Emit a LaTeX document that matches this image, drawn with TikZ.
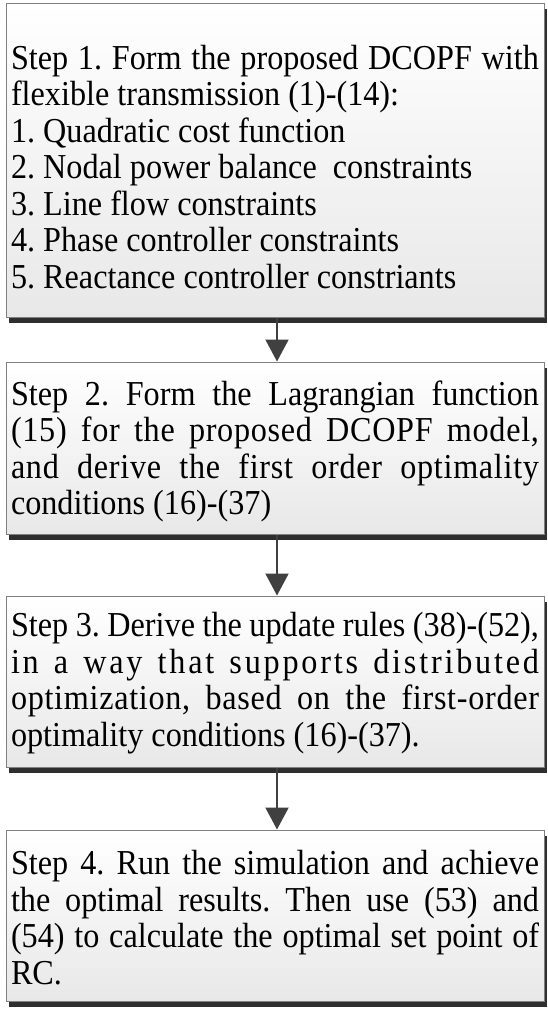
\documentclass[tikz,border=0pt]{standalone}
\usepackage{fontspec}
\setmainfont{Liberation Serif}[FakeStretch=0.92]
\usetikzlibrary{arrows.meta,shadows}
\definecolor{boxborder}{HTML}{808080}
\definecolor{boxbottom}{HTML}{E8E8E8}
\definecolor{shadowcol}{HTML}{2E2E2E}
\definecolor{arrowcol}{HTML}{404040}
\begin{document}
\begin{tikzpicture}[x=1pt,y=-1pt,
  stepbox/.style={draw=boxborder, line width=1pt, top color=white, bottom color=boxbottom,
    minimum width=538pt, text width=528pt, inner xsep=5pt, inner ysep=0pt, align=justify,
    font=\fontsize{35pt}{36.5pt}\selectfont\frenchspacing,
    drop shadow={shadow xshift=3pt, shadow yshift=-6pt, fill=shadowcol, opacity=1}},
  flow/.style={draw=arrowcol, line width=2pt, -{Triangle[length=22pt,width=23pt]}}]
\useasboundingbox (0,0) rectangle (547,1009);
\fill[white] (0,0) rectangle (547,1009);
\node[stepbox, minimum height=314pt] (b1) at (275,160) {\rule{0pt}{38pt}Step 1. Form the proposed DCOPF with\linebreak flexible transmission (1)-(14):\\
1. Quadratic cost function\\
2. Nodal power balance\ \ constraints\\
3. Line flow constraints\\
4. Phase controller constraints\\
5. Reactance controller constriants};
\node[stepbox, minimum height=172pt] (b2) at (275,448) {\rule{0pt}{31pt}Step 2. Form the Lagrangian function\linebreak
{\addfontfeature{LetterSpace=2}(15) for the proposed DCOPF model,}\linebreak
{\addfontfeature{LetterSpace=2}and derive the first order optimality}\linebreak
conditions (16)-(37)};
\node[stepbox, minimum height=171pt] (b3) at (275,681.5) {\rule{0pt}{28pt}Step 3. Derive the update rules (38)-(52),\linebreak
{\addfontfeature{LetterSpace=8}in a way that supports distributed}\linebreak
{\addfontfeature{LetterSpace=2}optimization, based on the first-order}\linebreak
optimality conditions (16)-(37).};
\node[stepbox, minimum height=171pt] (b4) at (275,915.5) {\rule{0pt}{28pt}Step 4. Run the simulation and achieve\linebreak
the optimal results. Then use (53) and\linebreak
(54) to calculate the optimal set point of\linebreak
RC.};
\draw[flow] ([xshift=2pt]b1.south) -- ([xshift=2pt]b2.north);
\draw[flow] ([xshift=2pt]b2.south) -- ([xshift=2pt]b3.north);
\draw[flow] ([xshift=2pt]b3.south) -- ([xshift=2pt]b4.north);
\end{tikzpicture}
\end{document}
